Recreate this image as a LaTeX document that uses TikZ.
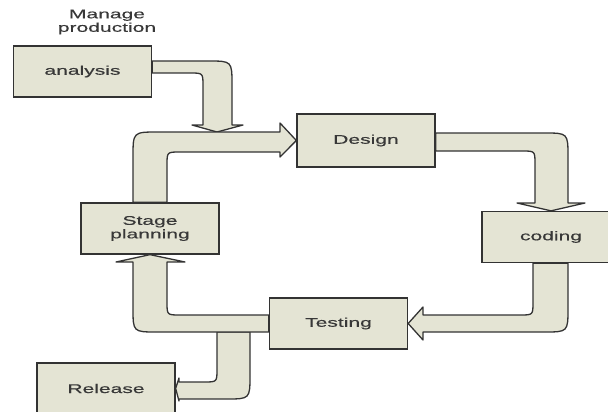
\documentclass[tikz,border=0pt]{standalone}
\usepackage{fontspec}
\usepackage{tikz}
\usetikzlibrary{positioning,calc}
\newfontfamily\diagfont[FakeStretch=1.67,FakeBold=0.4]{Liberation Sans}
\definecolor{box-fill}{HTML}{E4E4D4}
\definecolor{box-edge}{HTML}{333333}
\definecolor{box-text}{HTML}{383838}

\begin{document}
\begin{tikzpicture}[x=1pt, y=-1pt,
    box/.style={draw=box-edge, fill=box-fill, line width=1.3pt, minimum width=138pt,
        minimum height=51pt, inner sep=0pt, align=center, text=box-text,
        font={\diagfont\fontsize{12.6}{13.5}\selectfont}},
    band/.style={draw=box-edge, fill=box-fill, line width=1.3pt, line join=round}]
    \useasboundingbox (0,0) rectangle (608,412);

    \node[text=box-text, align=center, font={\diagfont\fontsize{12.6}{13.5}\selectfont}] (manage) at (107,22) {Manage\\production};
    \node[box] (analysis) at (82.5,71.5) {analysis};
    \node[box, minimum height=53pt] (design) at (366,140.5) {Design};
    \node[box] (coding) at (551,237) {coding};
    \node[box] (planning) at (150,228.5) {Stage\\planning};
    \node[box] (testing) at (338.5,323.5) {Testing};
    \node[box] (release) at (106,388.5) {Release};

    % analysis -> design band
    \draw[band] ([yshift=10.5pt]analysis.east) -- (208,61) .. controls (232,61) .. (232,85) -- (232,125)
        -- (243,125) -- (217,132) -- (192,125) -- (203,125) -- (203,86) .. controls (203,73) .. (190,73)
        -- ([yshift=-1.5pt]analysis.east) -- cycle;

    % planning -> design
    \draw[band] ([xshift=-17pt]planning.north) -- (133,157) .. controls (133,132) .. (158,132) -- (280,132)
        -- (280,123) -- (design.west) -- (280,157) -- (280,152) -- (180,152) .. controls (167,152) .. (167,165)
        -- ([xshift=17pt]planning.north) -- cycle;

    % design -> coding
    \draw[band] ([yshift=7.5pt]design.east) -- (544,133) .. controls (568,133) .. (568,157) -- (568,203)
        -- (585,203) -- (coding.north) -- (517,203) -- (535,203) -- (535,164) .. controls (535,151) .. (522,151)
        -- ([yshift=-10.5pt]design.east) -- cycle;

    % coding -> testing
    \draw[band] ([xshift=17pt]coding.south) -- (568,308) .. controls (568,332) .. (544,332) -- (423,332)
        -- (423,340) -- (testing.east) -- (423,307) -- (423,315) -- (520,315) .. controls (533,315) .. (533,302)
        -- ([xshift=-18pt]coding.south) -- cycle;

    % testing -> release, under the return band
    \coordinate (split) at (233.5,332);
    \draw[band] ([xshift=16.5pt]split) -- (250,375) .. controls (250,399) .. (226,399) -- (179,399)
        -- (179,401) -- (release.east) -- (179,378) -- (179,382) -- (204,382) .. controls (217,382) .. (217,369)
        -- ([xshift=-16.5pt]split) -- cycle;

    % testing -> planning
    \draw[band] ([yshift=8.5pt]testing.west) -- (180,315) .. controls (167,315) .. (167,302) -- (167,262)
        -- (185,262) -- (planning.south) -- (116,262) -- (133,262) -- (133,308) .. controls (133,332) .. (157,332)
        -- ([yshift=-8.5pt]testing.west) -- cycle;

\end{tikzpicture}
\end{document}
